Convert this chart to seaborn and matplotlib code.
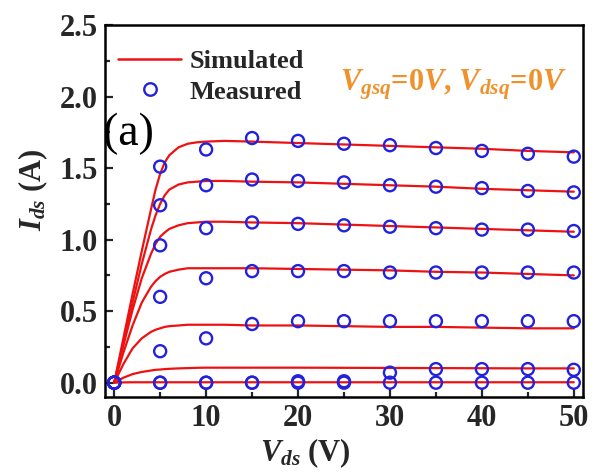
import numpy as np
import pandas as pd
import seaborn as sns
import matplotlib
matplotlib.use("Agg")
import matplotlib.pyplot as plt
from matplotlib.lines import Line2D
from matplotlib.ticker import MultipleLocator

# ---------------- data ----------------
x_sim = [0, 1, 2, 3, 4, 4.5, 5, 5.5, 6, 7, 8, 9, 10, 12, 15, 20, 25, 30, 35, 40, 45, 50]
sim1 = [0, 0.31, 0.62, 0.92, 1.21, 1.35, 1.46, 1.54, 1.59, 1.645, 1.67, 1.68, 1.685, 1.69, 1.685, 1.675, 1.665, 1.655, 1.645, 1.635, 1.62, 1.61]
sim2 = [0, 0.28, 0.56, 0.83, 1.07, 1.17, 1.25, 1.31, 1.35, 1.385, 1.40, 1.405, 1.41, 1.41, 1.405, 1.40, 1.39, 1.38, 1.37, 1.355, 1.345, 1.335]
sim3 = [0, 0.26, 0.51, 0.73, 0.90, 0.97, 1.02, 1.05, 1.075, 1.10, 1.115, 1.12, 1.125, 1.125, 1.12, 1.115, 1.105, 1.095, 1.085, 1.075, 1.065, 1.055]
sim4 = [0, 0.21, 0.40, 0.56, 0.67, 0.71, 0.74, 0.76, 0.775, 0.79, 0.80, 0.80, 0.80, 0.80, 0.80, 0.795, 0.79, 0.785, 0.775, 0.77, 0.76, 0.75]
sim5 = [0, 0.13, 0.24, 0.31, 0.355, 0.37, 0.38, 0.39, 0.395, 0.40, 0.405, 0.405, 0.405, 0.405, 0.40, 0.40, 0.395, 0.39, 0.39, 0.385, 0.38, 0.38]
sim6 = [0, 0.035, 0.06, 0.075, 0.085, 0.09, 0.092, 0.095, 0.097, 0.10, 0.102, 0.104, 0.105, 0.105, 0.105, 0.105, 0.104, 0.103, 0.102, 0.101, 0.10, 0.10]
sim7 = [0, 0.002, 0.003, 0.003, 0.003, 0.003, 0.003, 0.003, 0.003, 0.003, 0.003, 0.003, 0.003, 0.003, 0.003, 0.003, 0.003, 0.003, 0.003, 0.003, 0.003, 0.003]

x_meas = [0, 5, 10, 15, 20, 25, 30, 35, 40, 45, 50]
meas1 = [0, 1.51, 1.63, 1.71, 1.69, 1.67, 1.66, 1.64, 1.62, 1.60, 1.58]
meas2 = [0, 1.24, 1.38, 1.42, 1.41, 1.40, 1.38, 1.37, 1.36, 1.34, 1.33]
meas3 = [0, 0.96, 1.08, 1.12, 1.11, 1.10, 1.09, 1.08, 1.07, 1.07, 1.06]
meas4 = [0, 0.60, 0.73, 0.78, 0.78, 0.78, 0.77, 0.77, 0.77, 0.77, 0.77]
meas5 = [0, 0.22, 0.31, 0.41, 0.43, 0.43, 0.43, 0.43, 0.43, 0.43, 0.43]
meas6 = [0, 0, 0, 0, 0.01, 0.01, 0.07, 0.095, 0.095, 0.095, 0.09]
meas7 = [0, 0, 0, 0, 0, 0, 0, 0, 0, 0, 0]

x_ticks = [0, 10, 20, 30, 40, 50]
y_ticks = [0.0, 0.5, 1.0, 1.5, 2.0, 2.5]

sims = [sim1, sim2, sim3, sim4, sim5, sim6, sim7]
meas = [meas1, meas2, meas3, meas4, meas5, meas6, meas7]

df_sim = pd.concat([pd.DataFrame({"Vds": x_sim, "Ids": s, "curve": i}) for i, s in enumerate(sims)])
df_meas = pd.concat([pd.DataFrame({"Vds": x_meas, "Ids": m, "curve": i}) for i, m in enumerate(meas)])

# ---------------- style ----------------
sns.set_style("ticks")
plt.rcParams["font.family"] = ["Liberation Serif", "DejaVu Serif"]
plt.rcParams["font.weight"] = "bold"
plt.rcParams["mathtext.fontset"] = "custom"
plt.rcParams["mathtext.it"] = "Liberation Serif:italic:bold"
plt.rcParams["mathtext.rm"] = "Liberation Serif:bold"
plt.rcParams["mathtext.bf"] = "Liberation Serif:bold"

RED = "#EE1111"
BLUE = "#2222DD"
ORANGE = "#F0922C"

fig = plt.figure(figsize=(5.92, 4.74), dpi=100)
ax = fig.add_axes([105 / 592, 1 - 397 / 474, 478 / 592, 372 / 474])

sns.lineplot(data=df_sim, x="Vds", y="Ids", units="curve", estimator=None,
             color=RED, linewidth=1.6, ax=ax, legend=False, sort=False)
sns.scatterplot(data=df_meas, x="Vds", y="Ids", marker="o", s=75,
                facecolor="none", edgecolor=BLUE, linewidth=1.7, ax=ax,
                legend=False, zorder=3)

ax.set_xlim(-1, 51)
ax.set_ylim(-0.1, 2.5)
ax.set_xticks(x_ticks)
ax.set_yticks(y_ticks)
ax.set_xticklabels([str(t) for t in x_ticks])
ax.set_yticklabels([f"{t:.1f}" for t in y_ticks])
ax.xaxis.set_minor_locator(MultipleLocator(5))
ax.yaxis.set_minor_locator(MultipleLocator(0.25))
ax.tick_params(which="both", direction="in", width=1.6, top=False, right=False)
ax.tick_params(which="major", length=6, labelsize=22, pad=5)
ax.tick_params(which="minor", length=3.5)
for lbl in ax.get_xticklabels() + ax.get_yticklabels():
    lbl.set_fontweight("bold")
for sp in ax.spines.values():
    sp.set_visible(True)
    sp.set_linewidth(1.8)
    sp.set_color("black")

ax.set_xlabel(r"$V_{ds}$ (V)", fontsize=22, fontweight="bold")
ax.set_ylabel(r"$I_{ds}$ (A)", fontsize=22, fontweight="bold")
ax.xaxis.set_label_coords((305 - 105) / 478, -(436 - 397) / 372)
ax.yaxis.set_label_coords(-(105 - 50) / 478, (397 - 190) / 372)

handles = [Line2D([], [], color=RED, linewidth=1.8),
           Line2D([], [], color=BLUE, marker="o", linestyle="none",
                  markerfacecolor="none", markeredgewidth=1.7, markersize=9)]
leg = ax.legend(handles, ["Simulated", "Measured"], loc="upper left",
                bbox_to_anchor=((118 - 105) / 478, (397 - 50) / 372),
                frameon=False, borderaxespad=0, borderpad=0,
                handlelength=2.4, handletextpad=0.3, labelspacing=0.25,
                prop={"family": "Liberation Serif", "weight": "bold", "size": 19})

ax.text((567 - 105) / 478, (397 - 90) / 372,
        r"$V_{gsq}$=0$V$, $V_{dsq}$=0$V$", transform=ax.transAxes,
        ha="right", va="baseline", color=ORANGE, fontsize=22, fontweight="bold")

ax.text((103 - 105) / 478, (397 - 134) / 372, "(a)", transform=ax.transAxes,
        ha="left", va="center", fontsize=33, fontweight="normal", color="black")

fig.savefig("out.png", dpi=100)
